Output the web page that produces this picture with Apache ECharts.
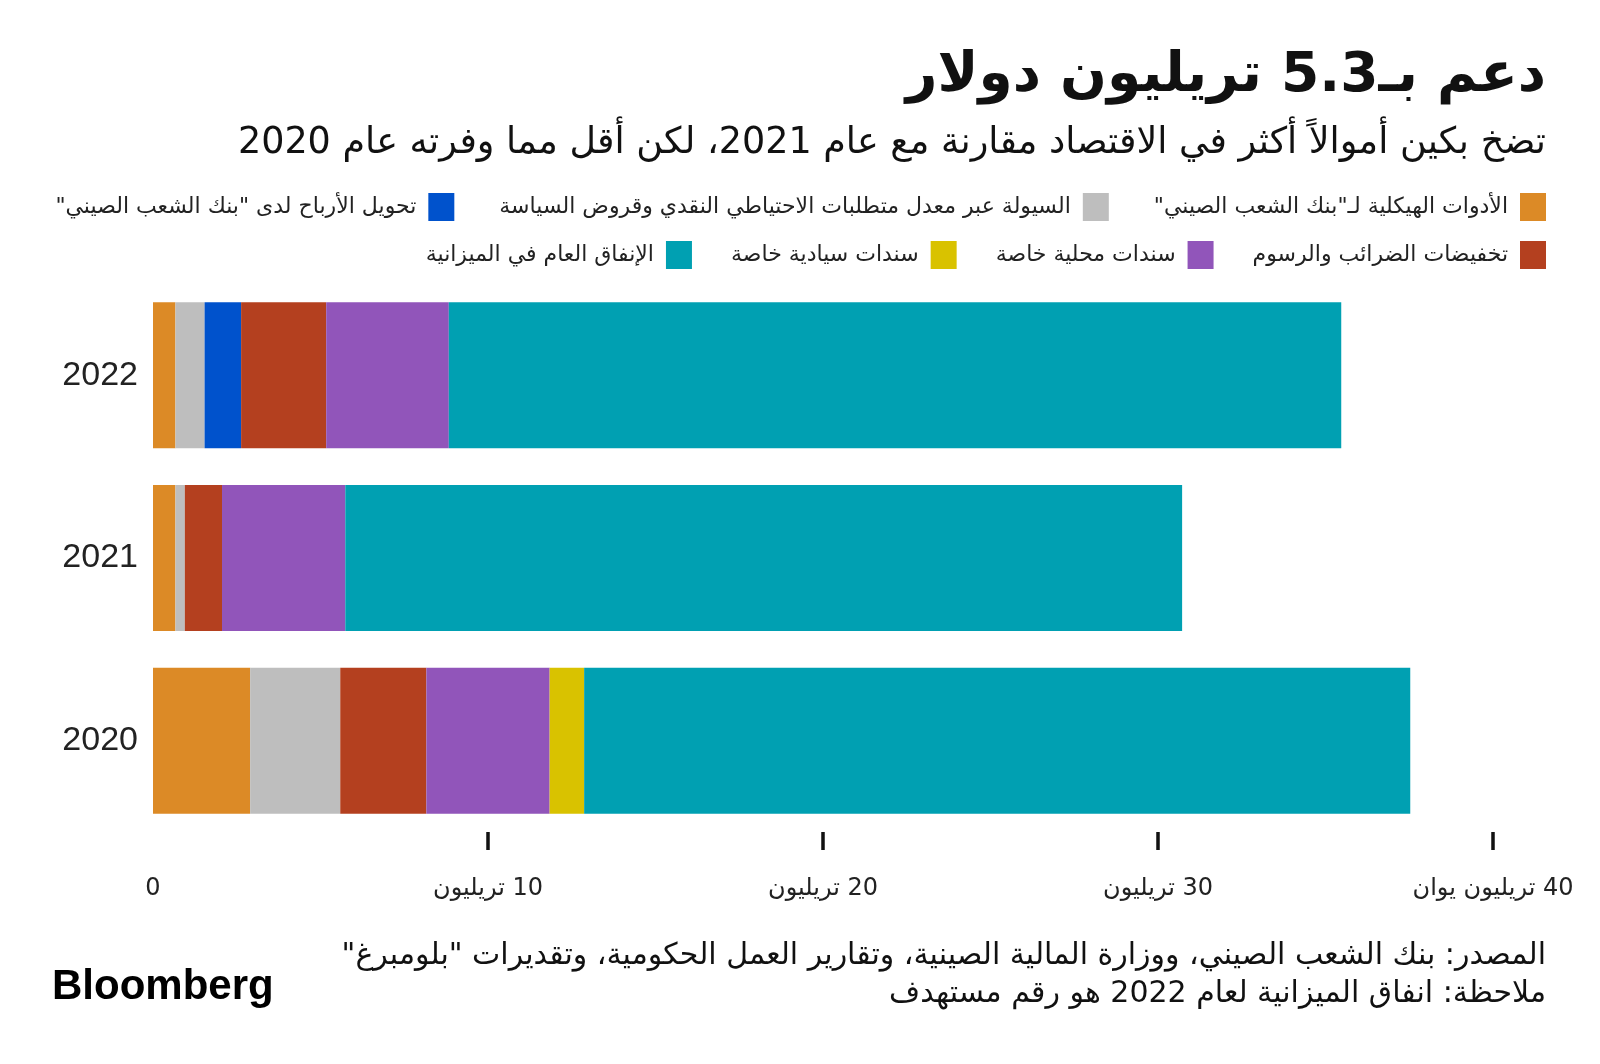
<!DOCTYPE html>
<html>
<head>
<meta charset="utf-8">
<script src="https://cdn.jsdelivr.net/npm/echarts@6/dist/echarts.min.js"></script>
<style>
html,body{margin:0;padding:0;background:#fff;}
#chart{width:1600px;height:1064px;}
</style>
</head>
<body>
<div id="chart" dir="rtl"></div>
<script>
// ---- data (trillion yuan) ----
const years = ['2020', '2021', '2022'];
const seriesNames = [
  'الأدوات الهيكلية لـ"بنك الشعب الصيني"',
  'السيولة عبر معدل متطلبات الاحتياطي النقدي وقروض السياسة',
  'تحويل الأرباح لدى "بنك الشعب الصيني"',
  'تخفيضات الضرائب والرسوم',
  'سندات محلية خاصة',
  'سندات سيادية خاصة',
  'الإنفاق العام في الميزانية'
];
const structuralTools   = [2.9, 0.67, 0.67];
const rrrLiquidity      = [2.69, 0.28, 0.87];
const profitTransfer    = [0, 0, 1.09];
const taxCuts           = [2.57, 1.11, 2.54];
const localSpecialBonds = [3.68, 3.68, 3.66];
const sovereignBonds    = [1.03, 0, 0];
const budgetSpending    = [24.66, 24.98, 26.64];
const xTickValues = [0, 10, 20, 30, 40];
const xTickLabels = ['0', '10 تريليون', '20 تريليون', '30 تريليون', '40 تريليون يوان'];

const titleText = 'دعم بـ5.3 تريليون دولار';
const subtitleText = 'تضخ بكين أموالاً أكثر في الاقتصاد مقارنة مع عام 2021، لكن أقل مما وفرته عام 2020';
const sourceText = 'المصدر: بنك الشعب الصيني، ووزارة المالية الصينية، وتقارير العمل الحكومية، وتقديرات "بلومبرغ"';
const noteText = 'ملاحظة: انفاق الميزانية لعام 2022 هو رقم مستهدف';

const colors = ['#DC8A26', '#BEBEBE', '#0052CC', '#B4401F', '#9155BA', '#D9C200', '#00A0B2'];
const values = [structuralTools, rrrLiquidity, profitTransfer, taxCuts, localSpecialBonds, sovereignBonds, budgetSpending];

const AR = '"DejaVu Sans", sans-serif';

const chart = echarts.init(document.getElementById('chart'), null, {renderer: 'canvas'});

const legendCommon = {
  right: 54,
  padding: 0,
  orient: 'horizontal',
  align: 'right',
  icon: 'rect',
  itemWidth: 26,
  itemHeight: 28,
  itemGap: 45,
  selectedMode: false,
  textStyle: {fontFamily: AR, fontSize: 22, color: '#222', padding: [0, 7, 0, 0]}
};

const option = {
  backgroundColor: '#fff',
  animation: false,
  color: colors,
  legend: [
    Object.assign({}, legendCommon, {top: 193, data: [seriesNames[2], seriesNames[1], seriesNames[0]]}),
    Object.assign({}, legendCommon, {top: 241, itemGap: 39, data: [seriesNames[6], seriesNames[5], seriesNames[4], seriesNames[3]]})
  ],
  grid: {left: 153, right: 107, top: 284, bottom: 232, containLabel: false},
  xAxis: {
    type: 'value', min: 0, max: 40, interval: 10,
    axisLine: {show: false},
    splitLine: {show: false},
    axisTick: {show: true, length: 18, customValues: [10, 20, 30, 40], lineStyle: {color: '#111', width: 3.5}},
    axisLabel: {
      customValues: xTickValues,
      margin: 45,
      fontFamily: AR, fontSize: 24, color: '#222',
      formatter: function (v) { return xTickLabels[xTickValues.indexOf(v)]; }
    }
  },
  yAxis: {
    type: 'category', data: years,
    axisLine: {show: false}, axisTick: {show: false},
    axisLabel: {margin: 15, fontFamily: '"Liberation Sans", Arial, sans-serif', fontSize: 34, color: '#222'}
  },
  series: seriesNames.map(function (n, i) {
    return {
      name: n, type: 'bar', stack: 'total', barWidth: 146,
      itemStyle: {color: colors[i]},
      data: values[i]
    };
  }),
  graphic: [
    {type: 'text', right: 54, top: 49, style: {text: titleText, font: 'bold 55px ' + AR, fill: '#111', align: 'right'}},
    {type: 'text', right: 54, top: 125, style: {text: subtitleText, font: '36.5px ' + AR, fill: '#111', align: 'right'}},
    {type: 'text', right: 54, top: 941, style: {text: sourceText, font: '30px ' + AR, fill: '#111', align: 'right'}},
    {type: 'text', right: 54, top: 979, style: {text: noteText, font: '30px ' + AR, fill: '#111', align: 'right'}},
    {type: 'text', left: 52, top: 966, style: {text: 'Bloomberg', font: 'bold 42px "Liberation Sans", Arial, sans-serif', fill: '#000'}}
  ]
};
chart.setOption(option);
</script>
</body>
</html>
